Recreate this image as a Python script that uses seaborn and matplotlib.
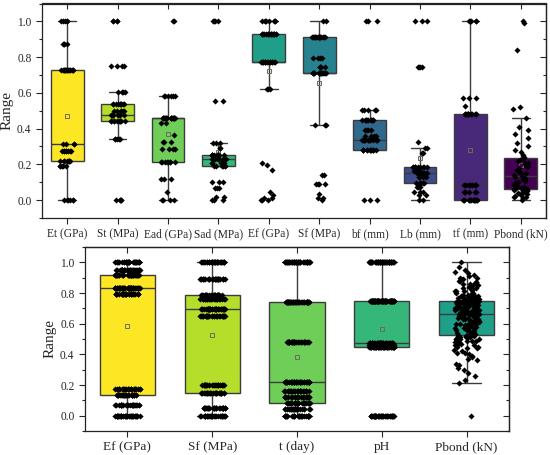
import numpy as np
import pandas as pd
import seaborn as sns
import matplotlib.pyplot as plt
from matplotlib.ticker import MultipleLocator, FormatStrFormatter

# ---------------- top panel: clusters as (value, count)
top_labels = ['Et (GPa)', 'St (MPa)', 'Ead (GPa)', 'Sad (MPa)', 'Ef (GPa)',
              'Sf (MPa)', 'bf (mm)', 'Lb (mm)', 'tf (mm)', 'Pbond (kN)']

et_vals = [0.0, 0.19, 0.221, 0.275, 0.312, 0.73, 0.872, 1.0]
et_counts = [6, 5, 8, 8, 4, 16, 4, 5]

st_vals = [0.0, 0.34, 0.442, 0.476, 0.50, 0.537, 0.604, 0.751, 1.0]
st_counts = [5, 5, 10, 10, 6, 10, 4, 4, 4]

ead_vals = [0.0, 0.048, 0.119, 0.212, 0.284, 0.327, 0.362, 0.433, 0.461, 0.582, 1.0]
ead_counts = [4, 1, 3, 8, 4, 3, 1, 2, 19, 6, 2]

sad_vals = [0.0, 0.02, 0.067, 0.10, 0.193, 0.21, 0.23, 0.253, 0.294, 0.322, 0.556, 1.0]
sad_counts = [3, 2, 3, 3, 6, 5, 8, 10, 2, 3, 2, 4]

ef_top_vals = [0.0, 0.01, 0.03, 0.043, 0.169, 0.197, 0.21, 0.619, 0.773, 0.931, 1.0]
ef_top_counts = [3, 2, 1, 1, 1, 1, 1, 3, 16, 19, 8]

sf_top_vals = [0.0, 0.011, 0.033, 0.091, 0.141, 0.418, 0.712, 0.742, 0.796, 0.91, 1.0]
sf_top_counts = [1, 2, 1, 4, 2, 3, 16, 5, 4, 16, 2]

bf_vals = [0.0, 0.281, 0.335, 0.359, 0.392, 0.448, 0.504, 1.0]
bf_counts = [3, 13, 14, 4, 4, 11, 5, 3]

lb_vals = [0.0, 0.03, 0.048, 0.076, 0.098, 0.132, 0.154, 0.164, 0.188, 0.262, 0.29, 0.327, 0.742, 1.0]
lb_counts = [2, 2, 3, 3, 6, 4, 8, 5, 10, 2, 2, 1, 4, 3]

tf_vals = [0.0, 0.043, 0.082, 0.48, 0.526, 0.574, 1.0]
tf_counts = [15, 6, 10, 14, 1, 3, 5]

pbond_top = [0.0, 0.01, 0.015, 0.02, 0.025, 0.03, 0.035, 0.04, 0.04, 0.045,
             0.05, 0.05, 0.055, 0.055, 0.06, 0.06, 0.065, 0.07, 0.07, 0.075,
             0.08, 0.08, 0.085, 0.09, 0.095, 0.10, 0.105, 0.11, 0.115, 0.12,
             0.125, 0.13, 0.135, 0.14, 0.145, 0.15, 0.16, 0.165, 0.17, 0.18,
             0.185, 0.19, 0.20, 0.205, 0.21, 0.22, 0.225, 0.235, 0.24, 0.25,
             0.27, 0.28, 0.30, 0.32, 0.35, 0.37, 0.39, 0.41, 0.46, 0.51,
             0.52, 0.84, 0.99, 1.0]

# ---------------- bottom panel
bottom_labels = ['Ef (GPa)', 'Sf (MPa)', 't (day)', 'pH', 'Pbond (kN)']

ef_vals = [0.0, 0.067, 0.134, 0.173, 0.792, 0.835, 0.918, 0.95, 1.0]
ef_counts = [35, 25, 30, 25, 30, 50, 40, 35, 30]

sf_vals = [0.0, 0.052, 0.149, 0.203, 0.649, 0.697, 0.758, 0.784, 0.892, 1.0]
sf_counts = [30, 30, 30, 25, 30, 40, 25, 25, 30, 35]

t_vals = [0.0, 0.043, 0.08, 0.119, 0.162, 0.221, 0.478, 0.74, 1.0]
t_counts = [30, 25, 30, 25, 25, 40, 35, 45, 45]

ph_vals = [0.0, 0.45, 0.463, 0.476, 0.745, 1.0]
ph_counts = [40, 50, 40, 40, 80, 50]

pbond = [0.00, 0.21, 0.23, 0.26, 0.28, 0.30, 0.31, 0.33, 0.34, 0.36,
         0.37, 0.38, 0.39, 0.40, 0.41, 0.41, 0.42, 0.43, 0.44, 0.44,
         0.45, 0.45, 0.46, 0.46, 0.47, 0.47, 0.47, 0.48, 0.48, 0.48,
         0.49, 0.49, 0.49, 0.50, 0.50, 0.50, 0.50, 0.51, 0.51, 0.51,
         0.51, 0.51, 0.52, 0.52, 0.52, 0.52, 0.52, 0.52, 0.52, 0.52,
         0.53, 0.53, 0.54, 0.55, 0.55, 0.55, 0.56, 0.56, 0.56, 0.57,
         0.57, 0.57, 0.58, 0.58, 0.58, 0.59, 0.59, 0.59, 0.60, 0.60,
         0.60, 0.60, 0.61, 0.61, 0.61, 0.62, 0.62, 0.62, 0.62, 0.63,
         0.63, 0.63, 0.63, 0.64, 0.64, 0.64, 0.64, 0.65, 0.65, 0.65,
         0.65, 0.65, 0.66, 0.66, 0.66, 0.66, 0.66, 0.66, 0.66, 0.66,
         0.67, 0.67, 0.67, 0.67, 0.67, 0.68, 0.68, 0.68, 0.68, 0.68,
         0.69, 0.69, 0.69, 0.69, 0.69, 0.70, 0.70, 0.70, 0.70, 0.70,
         0.71, 0.71, 0.71, 0.71, 0.71, 0.72, 0.72, 0.72, 0.72, 0.72,
         0.73, 0.73, 0.73, 0.73, 0.73, 0.73, 0.74, 0.74, 0.74, 0.74,
         0.735, 0.74, 0.745, 0.74, 0.735, 0.745, 0.74, 0.745, 0.74, 0.745,
         0.75, 0.75, 0.75, 0.75, 0.76, 0.76, 0.76, 0.76, 0.77, 0.77,
         0.77, 0.77, 0.78, 0.78, 0.78, 0.78, 0.79, 0.79, 0.79, 0.80,
         0.80, 0.80, 0.81, 0.81, 0.81, 0.82, 0.82, 0.83, 0.83, 0.84,
         0.84, 0.85, 0.85, 0.86, 0.86, 0.87, 0.87, 0.88, 0.88, 0.89,
         0.89, 0.90, 0.90, 0.91, 0.92, 0.93, 0.94, 0.95, 0.97, 1.00]

colors = ['#fde725', '#b5de2b', '#6ece58', '#35b779', '#1f9e89',
          '#26828e', '#31688e', '#3e4a89', '#482878', '#440154']


def expand(vals, counts):
    return np.repeat(vals, counts)


def long_df(labels, columns):
    rows = []
    for lab, col in zip(labels, columns):
        for v in col:
            rows.append((lab, v))
    return pd.DataFrame(rows, columns=['Variable', 'Range'])


top_df = long_df(top_labels, [
    expand(et_vals, et_counts), expand(st_vals, st_counts),
    expand(ead_vals, ead_counts), expand(sad_vals, sad_counts),
    expand(ef_top_vals, ef_top_counts), expand(sf_top_vals, sf_top_counts),
    expand(bf_vals, bf_counts), expand(lb_vals, lb_counts),
    expand(tf_vals, tf_counts), pbond_top])

bottom_df = long_df(bottom_labels, [
    expand(ef_vals, ef_counts), expand(sf_vals, sf_counts),
    expand(t_vals, t_counts), expand(ph_vals, ph_counts), pbond])


def draw_panel(ax, df, labels, pal, xsize, label_x):
    n = len(labels)
    sns.boxplot(data=df, x='Variable', y='Range', hue='Variable', order=labels,
                hue_order=labels, palette=pal, legend=False, width=0.65,
                showfliers=False, showmeans=True, linecolor='#3c3c3c',
                linewidth=1.0, saturation=1, capwidths=0.35,
                meanprops=dict(marker='s', markerfacecolor='none',
                               markeredgecolor='#6b6b5a', markersize=3,
                               markeredgewidth=0.7),
                ax=ax)
    sns.stripplot(data=df, x='Variable', y='Range', order=labels,
                  color='black', marker='D', size=3.1, jitter=0.15,
                  linewidth=0, ax=ax, zorder=3)
    ax.set_xlim(-0.5, n - 0.5)
    ax.set_ylim(-0.1, 1.1)
    ax.set_xlabel('')
    ax.set_ylabel('Range', fontsize=11)
    ax.yaxis.set_label_coords(label_x, 0.5)
    ax.yaxis.set_major_locator(MultipleLocator(0.2))
    ax.yaxis.set_minor_locator(MultipleLocator(0.1))
    ax.yaxis.set_major_formatter(FormatStrFormatter('%.1f'))
    ax.tick_params(axis='y', which='major', direction='out', length=4,
                   width=0.8, labelsize=8.3, left=True, right=False)
    ax.tick_params(axis='y', which='minor', direction='out', length=2,
                   width=0.8, left=True, right=False)
    ax.tick_params(axis='x', direction='out', length=4, width=0.8,
                   labelsize=xsize, bottom=True, top=False)
    for s in ax.spines.values():
        s.set_linewidth(0.9)
        s.set_color('#222222')

    right = ax.secondary_yaxis('right')
    right.yaxis.set_major_locator(MultipleLocator(0.2))
    right.yaxis.set_minor_locator(MultipleLocator(0.1))
    right.tick_params(which='major', direction='in', length=4, width=0.8,
                      right=True, labelright=False)
    right.tick_params(which='minor', direction='in', length=2, width=0.8,
                      right=True)
    right.spines['right'].set_linewidth(0.9)

    top = ax.secondary_xaxis('top')
    top.set_xticks(range(n))
    top.tick_params(direction='in', length=4, width=0.8, top=True,
                    labeltop=False)
    top.spines['top'].set_linewidth(0.9)


sns.set_style('white')
plt.rcParams['font.family'] = ['Liberation Serif', 'DejaVu Serif']
np.random.seed(3)

fig = plt.figure(figsize=(5.5, 4.55), dpi=100)
ax1 = fig.add_axes([42 / 550, 237 / 455, 504 / 550, 214.5 / 455])
ax2 = fig.add_axes([85 / 550, 24 / 455, 424 / 550, 184 / 455])

draw_panel(ax1, top_df, top_labels, colors, 8.3, -0.056)
draw_panel(ax2, bottom_df, bottom_labels, colors[:5], 9.5, -0.066)

fig.savefig('out.png', dpi=100)
